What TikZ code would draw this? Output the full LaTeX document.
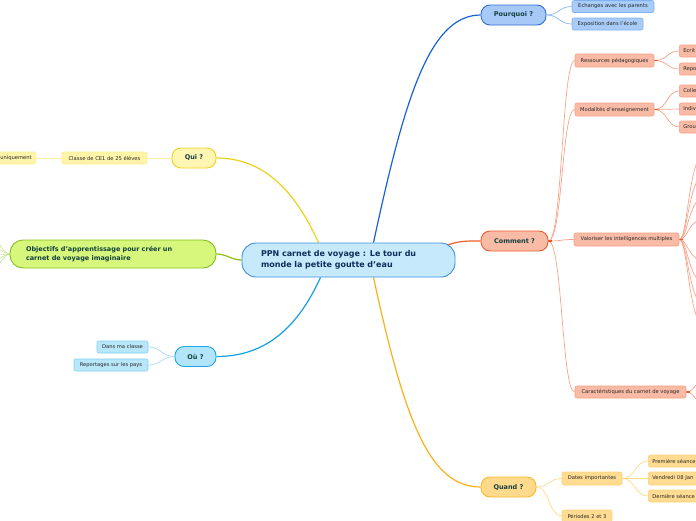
\documentclass[tikz,border=0pt]{standalone}
\usepackage{fontspec}
\setmainfont{DejaVu Sans}
\usetikzlibrary{backgrounds}
\definecolor{ctrfill}{HTML}{C6EAFB}
\definecolor{ctrdraw}{HTML}{3C8FD4}
\definecolor{ctrtext}{HTML}{0E2F5C}
\definecolor{maintext}{HTML}{123F3F}
\definecolor{leaftext}{HTML}{262626}
\definecolor{pqfill}{HTML}{A6C9F7}
\definecolor{pqdraw}{HTML}{2D6FD6}
\definecolor{pqlink}{HTML}{1A62D4}
\definecolor{pqlfill}{HTML}{A8CBF8}
\definecolor{pqldraw}{HTML}{7FB0F2}
\definecolor{pqsub}{HTML}{8AB8F2}
\definecolor{cmfill}{HTML}{F8BBA6}
\definecolor{cmdraw}{HTML}{EE5A2E}
\definecolor{cmlink}{HTML}{F05A28}
\definecolor{cmlfill}{HTML}{F9BBA5}
\definecolor{cmldraw}{HTML}{F7A085}
\definecolor{cmsub}{HTML}{F8A389}
\definecolor{qdfill}{HTML}{FFD98C}
\definecolor{qddraw}{HTML}{F9B82A}
\definecolor{qdlink}{HTML}{F7B21A}
\definecolor{qdlfill}{HTML}{FFDC92}
\definecolor{qdldraw}{HTML}{FDD27A}
\definecolor{qdsub}{HTML}{FFD98A}
\definecolor{quifill}{HTML}{FFF6B3}
\definecolor{quidraw}{HTML}{EFD21E}
\definecolor{quilink}{HTML}{EDD21A}
\definecolor{quilfill}{HTML}{FFF5AA}
\definecolor{quildraw}{HTML}{FFEC86}
\definecolor{quisub}{HTML}{FFF0A0}
\definecolor{objfill}{HTML}{D6F77C}
\definecolor{objdraw}{HTML}{86BD1E}
\definecolor{objlink}{HTML}{8DBE16}
\definecolor{objsub}{HTML}{C8E89A}
\definecolor{oufill}{HTML}{B3E5FA}
\definecolor{oudraw}{HTML}{20A6E0}
\definecolor{oulink}{HTML}{12A2E2}
\definecolor{oulfill}{HTML}{B9E7FA}
\definecolor{ouldraw}{HTML}{82D0F2}
\definecolor{ousub}{HTML}{A6DCF5}
\tikzset{
  mainbox/.style={draw, rounded corners=9pt, line width=0.9pt, minimum height=20pt,
    inner sep=0pt, font=\fontsize{6.5}{8}\selectfont\bfseries, text=maintext},
  leafbox/.style={draw, rounded corners=2pt, line width=0.6pt, minimum height=12pt,
    inner sep=0pt, font=\fontsize{5.2}{6}\selectfont, text=leaftext},
  link/.style={line width=1.2pt},
  sublink/.style={line width=0.7pt},
  pql/.style={leafbox, fill=pqlfill, draw=pqldraw},
  cml/.style={leafbox, fill=cmlfill, draw=cmldraw},
  qdl/.style={leafbox, fill=qdlfill, draw=qdldraw},
  quil/.style={leafbox, fill=quilfill, draw=quildraw},
  oul/.style={leafbox, fill=oulfill, draw=ouldraw},
  cutr/.style={anchor=west, text width=62pt, align=left, inner xsep=4pt},
}
\begin{document}
\begin{tikzpicture}[x=1pt,y=-1pt]
\useasboundingbox (0,0) rectangle (696,520);
\clip (0,0) rectangle (696,520);

% central
\node[draw=ctrdraw, fill=ctrfill, line width=0.9pt, rounded corners=14pt,
  minimum width=213pt, minimum height=34pt, inner xsep=19pt, inner ysep=0pt,
  text width=175pt, align=left, text=ctrtext,
  font=\fontsize{8}{11}\selectfont\bfseries] (ctr) at (348.5,260)
  {PPN carnet de voyage : Le tour du\\monde la petite goutte d'eau};

% Pourquoi
\node[mainbox, fill=pqfill, draw=pqdraw, minimum width=65pt] (pq) at (513.5,15) {Pourquoi ?};
\node[pql, minimum width=82pt] (pq1) at (613,6.5) {Echanges avec les parents};
\node[pql, minimum width=71pt] (pq2) at (607.5,24) {Exposition dans l'école};

% Comment
\node[mainbox, fill=cmfill, draw=cmdraw, minimum width=67pt] (cm) at (514.5,241) {Comment ?};
\node[cml, minimum width=79pt, minimum height=13pt] (cm1) at (614.5,60.5) {Ressources pédagogiques};
\node[cml, minimum width=79pt, minimum height=13pt] (cm2) at (614.5,109.5) {Modalités d'enseignement};
\node[cml, minimum width=105pt, minimum height=13pt] (cm3) at (626.5,239.5) {Valoriser les intelligences multiples};
\node[cml, minimum width=111pt] (cm4) at (630.5,392) {Caractéristiques du carnet de voyage};
\node[cml, cutr] (cm11) at (679,51) {Ecrit};
\node[cml, cutr] (cm12) at (679,69) {Repo};
\node[cml, cutr] (cm21) at (679,91) {Colle};
\node[cml, cutr] (cm22) at (679,109) {Indiv};
\node[cml, cutr] (cm23) at (679,127) {Grou};
\foreach \i/\y in {1/150,2/172,3/195,4/218,5/262,6/285,7/308,8/330}
  \coordinate (vm\i) at (708,\y);
\coordinate (ca1) at (706,380);
\coordinate (ca2) at (706,404);

% Quand
\node[mainbox, fill=qdfill, draw=qddraw, minimum width=55pt] (qd) at (508.5,487) {Quand ?};
\node[qdl, minimum width=60pt, minimum height=13pt] (qd1) at (592,478.5) {Dates importantes};
\node[qdl, minimum width=50pt] (qd2) at (587,516) {Périodes 2 et 3};
\node[qdl, cutr, minimum height=12pt] (qd11) at (648,461) {Première séance};
\node[qdl, cutr, minimum height=13pt] (qd12) at (648,478.5) {Vendredi 08 Jan};
\node[qdl, cutr, minimum height=12pt] (qd13) at (648,496) {Dernière séance};

% Qui
\node[mainbox, fill=quifill, draw=quidraw, minimum width=44pt] (qui) at (194,158) {Qui ?};
\node[quil, minimum width=85pt] (qui1) at (104.5,158) {Classe de CE1 de 25 élèves};
\node[quil, anchor=east, text width=52pt, align=right, inner xsep=4pt] (qui11) at (36,158) {uniquement};

% Objectifs
\node[draw=objdraw, fill=objfill, line width=0.9pt, rounded corners=13pt,
  minimum height=28pt, inner xsep=16pt, inner ysep=0pt, text width=174pt, align=left,
  text=maintext, font=\fontsize{6.5}{9}\selectfont\bfseries] (obj) at (113,254)
  {Objectifs d'apprentissage pour créer un\\carnet de voyage imaginaire};
\foreach \i/\y in {1/238,2/246,3/254,4/262,5/270}
  \coordinate (ob\i) at (-10,\y);

% Ou
\node[mainbox, fill=oufill, draw=oudraw, minimum width=41pt] (ou) at (195.5,356.5) {Où ?};
\node[oul, minimum width=51pt] (ou1) at (122.5,347) {Dans ma classe};
\node[oul, minimum width=74pt] (ou2) at (111,365) {Reportages sur les pays};

\begin{pgfonlayer}{background}
% main links
\draw[link, pqlink] ([xshift=25pt]ctr.north) .. controls +(31,-144) and +(-51,0) .. (pq.west);
\draw[link, qdlink] ([xshift=25pt]ctr.south) .. controls +(31,143) and +(-51,0) .. (qd.west);
\draw[link, cmlink] ([xshift=-9pt,yshift=-3pt]ctr.north east) .. controls +(12,-5) and +(-12,0) .. (cm.west);
\draw[link, quilink] ([xshift=-30pt]ctr.north) .. controls +(-25,-55) and +(45,0) .. (qui.east);
\draw[link, oulink] ([xshift=-28pt]ctr.south) .. controls +(-25,55) and +(45,0) .. (ou.east);
\draw[link, objlink] (ctr.west) .. controls +(-10,0) and +(10,0) .. (obj.east);

% Pourquoi children
\foreach \c in {pq1,pq2}
  \draw[sublink, pqsub] (pq.east) .. controls +(13,0) and +(-13,0) .. (\c.west);
% Comment children
\foreach \c in {cm1,cm2,cm3,cm4}
  \draw[sublink, cmsub] (cm.east) .. controls +(14,0) and +(-13,0) .. (\c.west);
\foreach \c in {cm11,cm12}
  \draw[sublink, cmsub] (cm1.east) .. controls +(13,0) and +(-12,0) .. (\c.west);
\foreach \c in {cm21,cm22,cm23}
  \draw[sublink, cmsub] (cm2.east) .. controls +(13,0) and +(-12,0) .. (\c.west);
\foreach \i in {1,...,8}
  \draw[sublink, cmsub] (cm3.east) .. controls +(9,0) and +(-20,0) .. (vm\i);
\foreach \c in {ca1,ca2}
  \draw[sublink, cmsub] (cm4.east) .. controls +(8,0) and +(-10,0) .. (\c);
\foreach \s in {cm,cm1,cm2,cm3,cm4}
  \draw[line width=1.1pt, cmlink] (\s.east) -- +(4,0);
% Quand children
\foreach \c in {qd1,qd2}
  \draw[sublink, qdsub] (qd.east) .. controls +(13,0) and +(-13,0) .. (\c.west);
\foreach \c in {qd11,qd12,qd13}
  \draw[sublink, qdsub] (qd1.east) .. controls +(13,0) and +(-13,0) .. (\c.west);
% Qui children
\draw[sublink, quisub] (qui.west) -- (qui1.east);
\draw[sublink, quisub] (qui1.west) -- (qui11.east);
% Objectifs children
\foreach \i in {1,...,5}
  \draw[sublink, objsub] (obj.west) .. controls +(-6,0) and +(8,0) .. (ob\i);
% Ou children
\foreach \c in {ou1,ou2}
  \draw[sublink, ousub] (ou.west) .. controls +(-13,0) and +(13,0) .. (\c.east);
\end{pgfonlayer}
\end{tikzpicture}
\end{document}
